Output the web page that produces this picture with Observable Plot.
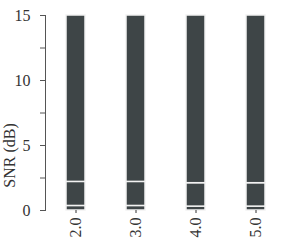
<!DOCTYPE html>
<html><head><meta charset="utf-8">
<script src="https://cdn.jsdelivr.net/npm/d3@7"></script>
<script src="https://cdn.jsdelivr.net/npm/@observablehq/plot@0.6"></script>
<style>body{margin:0;background:#fff}</style>
</head><body><div id="chart"></div>
<script>
const categories = ["2.0", "3.0", "4.0", "5.0"];
const segLow = [0.35, 0.35, 0.3, 0.3];
const segMid = [1.85, 1.85, 1.8, 1.8];
const segTop = [12.8, 12.8, 12.9, 12.9];
const majorTicks = [0, 5, 10, 15];
const minorTicks = [0, 2.5, 5, 7.5, 10, 12.5, 15];
const yLabel = "SNR (dB)";

const rows = [];
categories.forEach((c, i) => {
  rows.push({cat: c, seg: "a", v: segLow[i]});
  rows.push({cat: c, seg: "b", v: segMid[i]});
  rows.push({cat: c, seg: "c", v: segTop[i]});
});

const chart = Plot.plot({
  width: 281, height: 248,
  marginLeft: 45, marginTop: 15, marginBottom: 38, marginRight: 5,
  style: {fontFamily: "Liberation Serif", fontSize: "15px", color: "#333", background: "#fff"},
  x: {domain: categories, range: [53, 278], paddingInner: 0.68, paddingOuter: 0.2},
  y: {domain: [0, 15]},
  marks: [
    Plot.barY(rows, Plot.stackY({x: "cat", y: "v", fill: "#3e4547", stroke: "#f2f2f2", strokeWidth: 1.5, order: null})),
    Plot.frame({anchor: "left", stroke: "#555"}),
    Plot.axisY({ticks: minorTicks, tickSize: 5, tickFormat: () => "", label: null, stroke: "#555"}),
    Plot.axisY({ticks: majorTicks, tickSize: 0, tickPadding: 15, label: null, fontSize: 16}),
    Plot.text([yLabel], {frameAnchor: "bottom-left", rotate: -90, textAnchor: "middle", dx: -31, dy: -55, fontSize: 16, fill: "#333"}),
    Plot.axisX({tickSize: 3, tickRotate: -90, tickPadding: 4, label: null, fontSize: 16})
  ]
});
document.getElementById("chart").appendChild(chart);
</script></body></html>
